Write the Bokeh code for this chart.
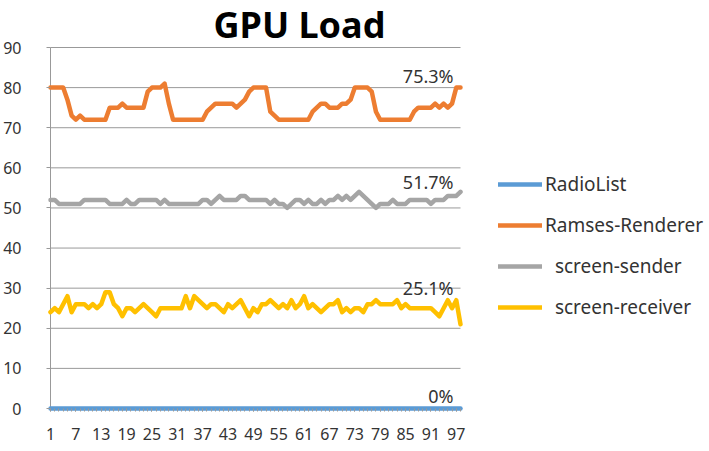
from bokeh.plotting import figure
from bokeh.models import Range1d, FixedTicker, Legend, LegendItem, ColumnDataSource, Label
from bokeh.core.properties import value
from bokeh.embed import file_html
from bokeh.resources import INLINE

# ---------------- data ----------------
x = list(range(1, 99))
radiolist = [0] * 98
ramses_renderer = [
    80, 80, 80, 80, 77, 73, 72, 73, 72, 72, 72, 72, 72, 72, 75, 75, 75, 76, 75, 75,
    75, 75, 75, 79, 80, 80, 80, 81, 76, 72, 72, 72, 72, 72, 72, 72, 72, 74, 75, 76,
    76, 76, 76, 76, 75, 76, 77, 79, 80, 80, 80, 80, 74, 73, 72, 72, 72, 72, 72, 72,
    72, 72, 74, 75, 76, 76, 75, 75, 75, 76, 76, 77, 80, 80, 80, 80, 79, 74, 72, 72,
    72, 72, 72, 72, 72, 72, 74, 75, 75, 75, 75, 76, 75, 76, 75, 76, 80, 80]
screen_sender = [
    52, 52, 51, 51, 51, 51, 51, 51, 52, 52, 52, 52, 52, 52, 51, 51, 51, 51, 52, 51,
    51, 52, 52, 52, 52, 52, 51, 52, 51, 51, 51, 51, 51, 51, 51, 51, 52, 52, 51, 52,
    53, 52, 52, 52, 52, 53, 53, 52, 52, 52, 52, 52, 51, 52, 51, 51, 50, 51, 52, 52,
    51, 52, 51, 51, 52, 51, 52, 52, 53, 52, 53, 52, 53, 54, 53, 52, 51, 50, 51, 51,
    51, 52, 51, 51, 51, 52, 52, 52, 52, 52, 51, 52, 52, 52, 53, 53, 53, 54]
screen_receiver = [
    24, 25, 24, 26, 28, 24, 26, 26, 26, 25, 26, 25, 26, 29, 29, 26, 25, 23, 25, 25,
    24, 25, 26, 25, 24, 23, 25, 25, 25, 25, 25, 25, 28, 25, 28, 27, 26, 25, 26, 26,
    25, 24, 26, 25, 26, 27, 25, 23, 25, 24, 26, 26, 27, 26, 25, 26, 25, 27, 25, 26,
    28, 25, 26, 25, 24, 25, 26, 26, 27, 24, 25, 24, 25, 25, 24, 26, 26, 27, 26, 26,
    26, 26, 27, 25, 26, 25, 25, 25, 25, 25, 25, 24, 23, 25, 27, 25, 27, 21]

series_names = ["RadioList", "Ramses-Renderer", "\u00a0\u00a0screen-sender", "\u00a0\u00a0screen-receiver"]
series_colors = ["#5B9BD5", "#ED7D31", "#A5A5A5", "#FFC000"]
end_labels = ["0%", "75.3%", "51.7%", "25.1%"]
x_ticks = [1, 7, 13, 19, 25, 31, 37, 43, 49, 55, 61, 67, 73, 79, 85, 91, 97]
y_ticks = [0, 10, 20, 30, 40, 50, 60, 70, 80, 90]
title_text = "GPU Load"

# label placement (styling, pixels)
end_label_yoffsets = [-13, -12, -10, -36]

FONT = "Noto Sans"
GRID = "#999999"

# ---------------- layout (pixels) ----------------
W, H = 709, 451
PLOT_LEFT, PLOT_RIGHT = 50, 460      # data area horizontally
PLOT_TOP, PLOT_BOTTOM = 47, 408      # y=90 and y=0 lines
BORDER_LEFT, BORDER_BOTTOM = 46, 40  # frame is widened so nothing gets clipped
ppx = (PLOT_RIGHT - PLOT_LEFT) / (x[-1] - x[0])
ppu = (PLOT_BOTTOM - PLOT_TOP) / (y_ticks[-1] - y_ticks[0])
x0 = x[0] - (PLOT_LEFT - BORDER_LEFT) / ppx
x1 = x0 + (W - BORDER_LEFT) / ppx
y0 = y_ticks[0] - ((H - BORDER_BOTTOM) - PLOT_BOTTOM) / ppu
y1 = y0 + (H - BORDER_BOTTOM) / ppu

p = figure(width=W, height=H, output_backend="svg", toolbar_location=None,
           x_range=Range1d(x0, x1), y_range=Range1d(y0, y1),
           min_border_left=BORDER_LEFT, min_border_right=0, min_border_top=0,
           min_border_bottom=BORDER_BOTTOM)
p.outline_line_color = None
p.background_fill_color = "white"
p.border_fill_color = "white"
p.title.visible = False

# grid lines and y-axis line limited to the data span
p.xgrid.grid_line_color = None
p.ygrid.grid_line_color = None
p.segment(x0=[x[0]] * len(y_ticks), y0=y_ticks, x1=[x[-1]] * len(y_ticks), y1=y_ticks,
          line_color=GRID, line_width=1)
p.segment(x0=[x[0]], y0=[y_ticks[0]], x1=[x[0]], y1=[y_ticks[-1]], line_color=GRID, line_width=1)

# y axis (ticks / labels only)
p.yaxis.ticker = FixedTicker(ticks=y_ticks)
p.yaxis.axis_line_color = None
p.yaxis.major_tick_line_color = GRID
p.yaxis.major_tick_out = 0
p.yaxis.major_tick_in = 4
p.yaxis.minor_tick_line_color = None
p.yaxis.major_label_text_font = FONT
p.yaxis.major_label_text_font_size = "16px"
p.yaxis.major_label_text_color = "#333333"
p.yaxis.major_label_standoff = 25

# x axis (ticks / labels only)
p.xaxis.ticker = FixedTicker(ticks=x_ticks, minor_ticks=x)
p.xaxis.axis_line_color = None
p.xaxis.major_tick_line_color = GRID
p.xaxis.minor_tick_line_color = GRID
p.xaxis.major_tick_out = 0
p.xaxis.major_tick_in = 3
p.xaxis.minor_tick_out = 0
p.xaxis.minor_tick_in = 3
p.xaxis.major_label_text_font = FONT
p.xaxis.major_label_text_font_size = "16px"
p.xaxis.major_label_text_color = "#333333"
p.xaxis.major_label_standoff = 16

all_series = [radiolist, ramses_renderer, screen_sender, screen_receiver]
renderers = []
for name, col, ys in zip(series_names, series_colors, all_series):
    r = p.line(x, ys, line_color=col, line_width=4.5, line_join="round", line_cap="round")
    renderers.append(r)

# end-point labels
src = ColumnDataSource(dict(
    x=[x[-1]] * 4,
    y=[s[-1] for s in all_series],
    text=end_labels,
    yoff=end_label_yoffsets,
))
p.text(x="x", y="y", text="text", source=src, text_align="right", text_baseline="middle",
       x_offset=-7, y_offset="yoff", text_font=value(FONT), text_font_size="18px",
       text_color="#333333")

# title (drawn inside the widened frame)
p.add_layout(Label(x=x[0] + (213 - PLOT_LEFT) / ppx, y=y_ticks[-1] + 23 / ppu, text=title_text,
                   text_font=FONT, text_font_style="bold", text_font_size="36px",
                   text_align="left", text_baseline="alphabetic", text_color="black"))

# legend
legend = Legend(items=[LegendItem(label=n, renderers=[r]) for n, r in zip(series_names, renderers)],
                location=(452, 91), orientation="vertical")
legend.label_text_font = FONT
legend.label_text_font_size = "19px"
legend.label_text_color = "#333333"
legend.glyph_width = 44
legend.glyph_height = 26
legend.label_height = 26
legend.label_standoff = 3
legend.spacing = 15
legend.padding = 0
legend.margin = 0
legend.border_line_color = None
legend.background_fill_alpha = 0
p.add_layout(legend, "center")

open("out.html", "w").write(file_html(p, INLINE))
